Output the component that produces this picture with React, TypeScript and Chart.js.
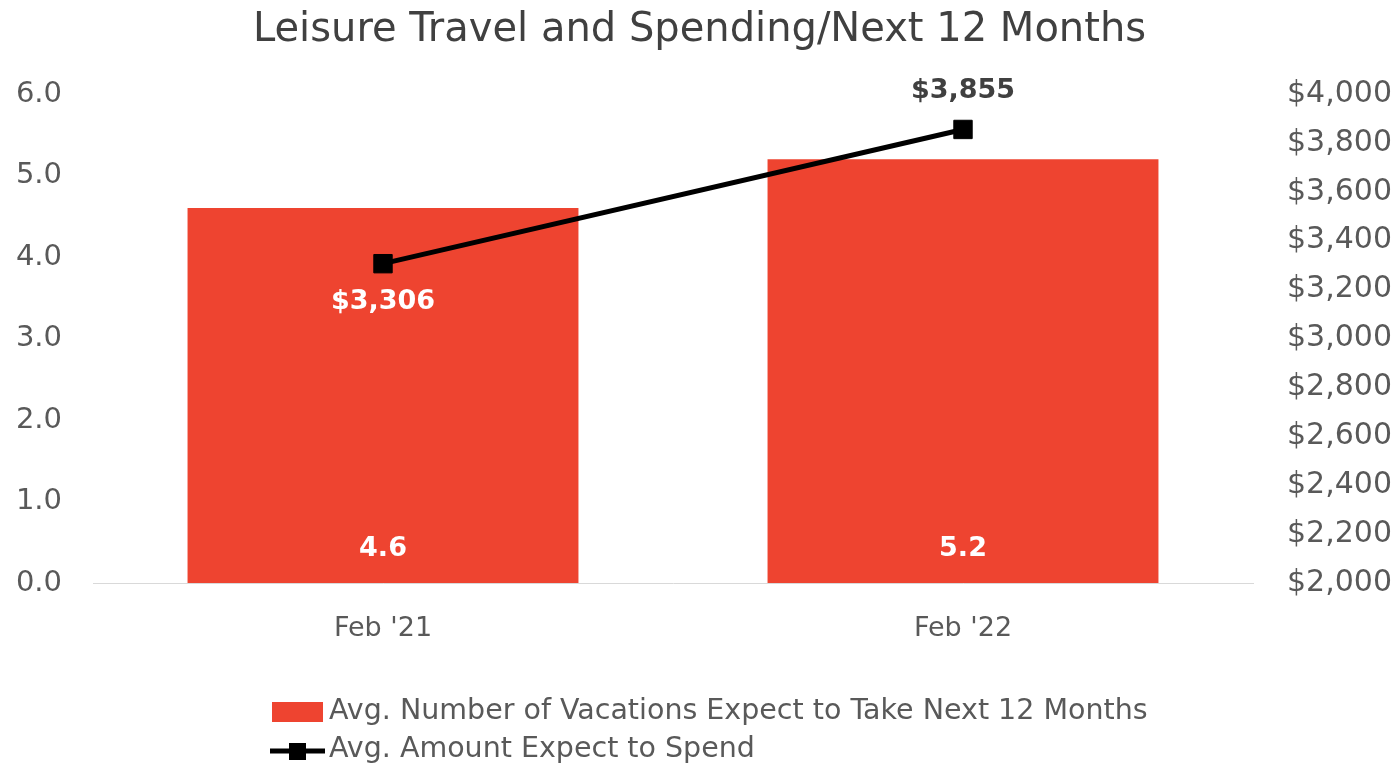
import React, { useEffect, useRef } from "react";
import { Chart, registerables } from "chart.js";

Chart.register(...registerables);

const categories = ["Feb '21", "Feb '22"];
const vacations = [4.6, 5.2];
const spend = [3306, 3855];
const vacationsLabel = "Avg. Number of Vacations Expect to Take Next 12 Months";
const spendLabel = "Avg. Amount Expect to Spend";
const titleText = "Leisure Travel and Spending/Next 12 Months";

const FONT = "'DejaVu Sans', sans-serif";
const BAR_COLOR = "#EE4430";
const TEXT_GRAY = "#595959";

const fmtMoney = (v: number) => "$" + v.toLocaleString("en-US");

const labelsPlugin = {
  id: "customLabels",
  afterDatasetsDraw(chart: any) {
    const ctx = chart.ctx;
    ctx.save();
    ctx.textAlign = "center";
    ctx.textBaseline = "middle";
    ctx.font = `bold 27px ${FONT}`;
    const barMeta = chart.getDatasetMeta(0);
    barMeta.data.forEach((el: any, i: number) => {
      ctx.fillStyle = "#ffffff";
      ctx.fillText(vacations[i].toFixed(1), el.x, chart.scales.y.bottom - 34);
    });
    const lineMeta = chart.getDatasetMeta(1);
    lineMeta.data.forEach((el: any, i: number) => {
      if (i === 0) {
        ctx.fillStyle = "#ffffff";
        ctx.fillText(fmtMoney(spend[i]), el.x, el.y + 38);
      } else {
        ctx.fillStyle = "#404040";
        ctx.fillText(fmtMoney(spend[i]), el.x, el.y - 38);
      }
    });
    ctx.restore();
  },
  afterDraw(chart: any) {
    const ctx = chart.ctx;
    ctx.save();
    ctx.font = `28.5px ${FONT}`;
    ctx.textBaseline = "middle";
    ctx.textAlign = "left";
    const textX = 329;
    // row 1
    ctx.fillStyle = BAR_COLOR;
    ctx.fillRect(272, 702, 51, 20);
    ctx.fillStyle = TEXT_GRAY;
    ctx.fillText(vacationsLabel, textX, 712);
    // row 2
    ctx.strokeStyle = "#000000";
    ctx.lineWidth = 5;
    ctx.beginPath();
    ctx.moveTo(270, 751);
    ctx.lineTo(325, 751);
    ctx.stroke();
    ctx.fillStyle = "#000000";
    ctx.fillRect(289, 743, 17, 17);
    ctx.fillStyle = TEXT_GRAY;
    ctx.fillText(spendLabel, textX, 750);
    ctx.restore();
  },
};

export default function App() {
  const ref = useRef<HTMLCanvasElement | null>(null);
  useEffect(() => {
    document.body.style.margin = "0";
    const chart = new Chart(ref.current as HTMLCanvasElement, {
      type: "bar",
      data: {
        labels: categories,
        datasets: [
          {
            type: "bar",
            label: vacationsLabel,
            data: vacations,
            backgroundColor: BAR_COLOR,
            yAxisID: "y",
            categoryPercentage: 0.674,
            barPercentage: 1,
            order: 2,
          },
          {
            type: "line",
            label: spendLabel,
            data: spend,
            borderColor: "#000000",
            borderWidth: 5,
            backgroundColor: "#000000",
            pointStyle: "rect",
            pointRadius: 13,
            pointBorderWidth: 1,
            yAxisID: "y1",
            order: 1,
          } as any,
        ],
      },
      options: {
        animation: false,
        responsive: false,
        maintainAspectRatio: false,
        layout: { padding: 0 },
        plugins: {
          legend: { display: false },
          tooltip: { enabled: false },
          title: {
            display: true,
            text: titleText,
            color: "#404040",
            font: { family: FONT, size: 40, weight: "normal" as any, lineHeight: 1.2 },
            padding: { top: 7, bottom: 39 },
          },
        },
        scales: {
          x: {
            grid: { display: false, drawTicks: false },
            border: { display: true, color: "#d9d9d9", width: 1 },
            ticks: { color: TEXT_GRAY, font: { family: FONT, size: 27 }, padding: 30 },
            afterFit: (s: any) => { s.height = 182; },
          },
          y: {
            position: "left",
            min: 0,
            max: 6,
            grid: { display: false, drawTicks: false },
            border: { display: false },
            ticks: {
              stepSize: 1,
              color: TEXT_GRAY,
              font: { family: FONT, size: 29 },
              padding: 31,
              callback: (v: any) => Number(v).toFixed(1),
            },
            afterFit: (s: any) => { s.width = 93; },
          },
          y1: {
            position: "right",
            min: 2000,
            max: 4000,
            grid: { display: false, drawTicks: false },
            border: { display: false },
            ticks: {
              stepSize: 200,
              color: TEXT_GRAY,
              font: { family: FONT, size: 30 },
              padding: 34,
              callback: (v: any) => fmtMoney(Number(v)),
            },
            afterFit: (s: any) => { s.width = 146; },
          },
        },
      },
      plugins: [labelsPlugin],
    });
    return () => chart.destroy();
  }, []);
  return (
    <div style={{ width: 1399, height: 765 }}>
      <canvas ref={ref} width={1399} height={765} style={{ display: "block" }} />
    </div>
  );
}
